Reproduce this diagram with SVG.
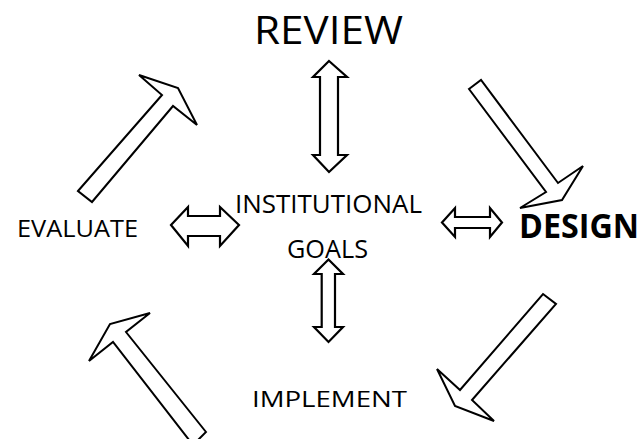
<svg xmlns="http://www.w3.org/2000/svg" width="644" height="439" viewBox="0 0 644 439">
<style>
.arr{fill:#fff;stroke:#000;stroke-width:2;stroke-linejoin:miter}
.dbl{fill:#fff;stroke:#000;stroke-width:2.2;stroke-linejoin:miter}
.t{font-family:"Open Sans","Liberation Sans",sans-serif;fill:#000}
</style>
<rect width="644" height="439" fill="#fff"/>
<g id="connectors">
<polygon class="arr" points="78,191 162,95 139,75 178,88 197,125 173,106 92,202"/>
<polygon class="arr" points="469,89 481,80 558,183 583,166 562,200 520,208 546,192"/>
<polygon class="arr" points="543,294 556,304 472,400 494,421 455,406 437,369 460,390"/>
<polygon class="arr" points="206,432 126,332 150,313 110,324 89,361 113,342 193,445"/>
<polygon class="dbl" points="329,61 347,77 338,77 338,155 347,155 329,172 313,155 320,155 320,77 313,77"/>
<polygon class="dbl" points="328.5,259.5 343,274 335,274 335,327 343,327 328.5,342 314,327 321.7,327 321.7,274 314,274"/>
<polygon class="dbl" points="171,225 188,207 188,216 220,216 220,207 239,225 220,246 220,236 188,236 188,246"/>
<polygon class="dbl" points="442,222.5 455,208 455,217 490,217 490,208 502,222.5 490,237 490,228 455,228 455,237"/>
</g>
<g id="review"><text class="t" x="254" y="44" font-size="38.5" textLength="149" lengthAdjust="spacingAndGlyphs">REVIEW</text></g>
<g id="goals">
<text class="t" x="235" y="213" font-size="25.5" textLength="187" lengthAdjust="spacingAndGlyphs">INSTITUTIONAL</text>
<text class="t" x="287" y="257.5" font-size="25.5" textLength="81" lengthAdjust="spacingAndGlyphs">GOALS</text>
</g>
<g id="design"><text class="t" x="519" y="238" font-size="34" font-weight="bold" textLength="120" lengthAdjust="spacingAndGlyphs">DESIGN</text></g>
<g id="evaluate"><text class="t" x="17" y="236.5" font-size="23.3" textLength="121" lengthAdjust="spacingAndGlyphs">EVALUATE</text></g>
<g id="implement"><text class="t" x="252" y="406.5" font-size="22.5" textLength="155" lengthAdjust="spacingAndGlyphs">IMPLEMENT</text></g>
</svg>
